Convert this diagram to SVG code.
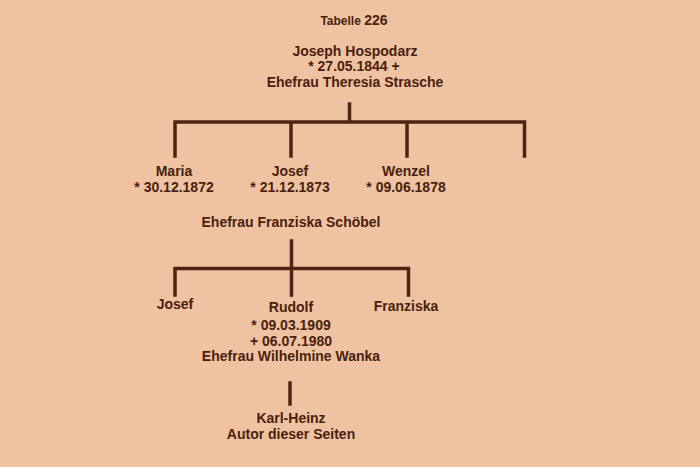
<svg xmlns="http://www.w3.org/2000/svg" width="700" height="467" viewBox="0 0 700 467">
<style>
text{font-family:"Liberation Sans",Arial,sans-serif;font-size:14px;font-weight:bold;fill:#4a1e0e;text-anchor:middle}
.ln{stroke:#4e2414;stroke-width:3.5;fill:none;stroke-linecap:square}
</style>
<rect width="700" height="467" fill="#EFC3A1"/>
<g id="title"><text x="354" y="25"><tspan font-size="12">Tabelle </tspan><tspan font-size="14">226</tspan></text></g>
<g id="joseph">
<text x="355" y="56">Joseph Hospodarz</text>
<text x="354" y="71">* 27.05.1844 +</text>
<text x="355" y="87">Ehefrau Theresia Strasche</text>
</g>
<g id="connectors">
<path class="ln" d="M349.5 104V122M175 122H524.5M175 122V156M291 122V156M407 122V156M524.5 122V156"/>
<path class="ln" d="M291.5 241V295M175 268.5H408.5M175 268.5V295M408.5 268.5V295"/>
<path class="ln" d="M290 383V404"/>
</g>
<g id="maria"><text x="174" y="176">Maria</text><text x="174" y="192">* 30.12.1872</text></g>
<g id="josef1"><text x="290" y="176">Josef</text><text x="290" y="192">* 21.12.1873</text></g>
<g id="wenzel"><text x="406" y="176">Wenzel</text><text x="406" y="192">* 09.06.1878</text></g>
<g id="ehefrau-franziska"><text x="291" y="227">Ehefrau Franziska Schöbel</text></g>
<g id="josef2"><text x="175" y="309">Josef</text></g>
<g id="rudolf">
<text x="291" y="312">Rudolf</text>
<text x="291" y="330">* 09.03.1909</text>
<text x="291" y="346">+ 06.07.1980</text>
<text x="291" y="361">Ehefrau Wilhelmine Wanka</text>
</g>
<g id="franziska"><text x="406" y="311">Franziska</text></g>
<g id="karlheinz"><text x="291" y="423">Karl-Heinz</text><text x="291" y="439">Autor dieser Seiten</text></g>
</svg>
